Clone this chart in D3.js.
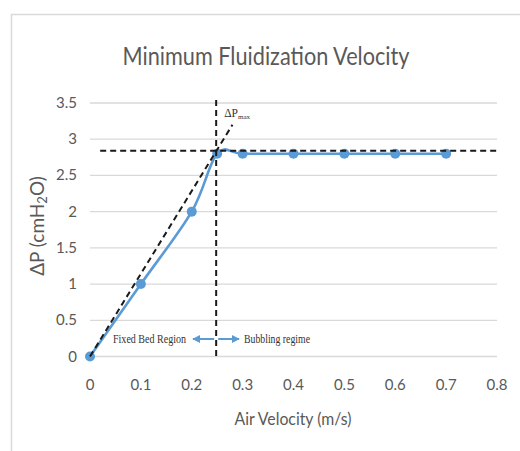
<!DOCTYPE html>
<html>
<head>
<meta charset="utf-8">
<script src="https://cdn.jsdelivr.net/npm/d3@7"></script>
<style>
  body { margin: 0; background: #fff; }
  text { font-family: Lato, "Open Sans", sans-serif; fill: #595959; }
  .note { font-family: "Liberation Serif", "DejaVu Serif", serif; fill: #333; }
</style>
</head>
<body>
<div id="chart"></div>
<script>
// measured values
var velocity = [0, 0.1, 0.2, 0.25, 0.3, 0.4, 0.5, 0.6, 0.7]
var pressure = [0, 1, 2, 2.8, 2.8, 2.8, 2.8, 2.8, 2.8]
var xTicks = [0, 0.1, 0.2, 0.3, 0.4, 0.5, 0.6, 0.7, 0.8]
var yTicks = [0, 0.5, 1, 1.5, 2, 2.5, 3, 3.5]
var umf = 0.248            // vertical dashed line
var dpMax = 2.84           // horizontal dashed line
var slopeLine = [[0, 0], [0.28, 3.2]]

var W = 520, H = 451
var svg = d3.select("#chart").append("svg")
    .attr("width", W).attr("height", H)

// frame (only top and left edges are visible)
svg.append("path")
    .attr("d", "M11.5," + H + "V14.5H" + W)
    .attr("fill", "none").attr("stroke", "#d9d9d9").attr("stroke-width", 1.5)

var x = d3.scaleLinear().domain([0, 0.8]).range([90, 497])
var y = d3.scaleLinear().domain([0, 3.5]).range([356.5, 103])

// gridlines
svg.append("g").selectAll("line").data(yTicks).enter().append("line")
    .attr("x1", x(0)).attr("x2", x(0.8))
    .attr("y1", function(d) { return y(d) }).attr("y2", function(d) { return y(d) })
    .attr("stroke", "#d9d9d9").attr("stroke-width", 1.3)

// tick labels
svg.append("g").selectAll("text").data(yTicks).enter().append("text")
    .attr("x", 77).attr("y", function(d) { return y(d) + 5 })
    .attr("text-anchor", "end").attr("font-size", 15)
    .text(function(d) { return d })
svg.append("g").selectAll("text").data(xTicks).enter().append("text")
    .attr("x", function(d) { return x(d) }).attr("y", 390)
    .attr("text-anchor", "middle").attr("font-size", 15)
    .text(function(d) { return d })

// titles
svg.append("text").attr("x", 266).attr("y", 65)
    .attr("text-anchor", "middle").attr("font-size", 25)
    .attr("textLength", 287).attr("lengthAdjust", "spacingAndGlyphs")
    .text("Minimum Fluidization Velocity")
svg.append("text").attr("x", 293).attr("y", 425)
    .attr("text-anchor", "middle").attr("font-size", 17)
    .attr("textLength", 117).attr("lengthAdjust", "spacingAndGlyphs")
    .text("Air Velocity (m/s)")
var yt = svg.append("text")
    .attr("transform", "translate(44,226) rotate(-90)")
    .attr("text-anchor", "middle").attr("font-size", 19)
yt.append("tspan").text("ΔP (cmH")
yt.append("tspan").attr("font-size", 13).attr("dy", 3).text("2")
yt.append("tspan").attr("dy", -3).text("O)")

// data line
var pts = velocity.map(function(v, i) { return [v, pressure[i]] })
var line = d3.line()
    .x(function(d) { return x(d[0]) })
    .y(function(d) { return y(d[1]) })
    .curve(d3.curveCardinal.tension(0))
svg.append("path").datum(pts)
    .attr("d", line)
    .attr("fill", "none").attr("stroke", "#5b9bd5").attr("stroke-width", 2.6)
svg.append("g").selectAll("circle").data(pts).enter().append("circle")
    .attr("cx", function(d) { return x(d[0]) })
    .attr("cy", function(d) { return y(d[1]) })
    .attr("r", 5).attr("fill", "#5b9bd5")

// dashed guide lines
var dash = { "stroke": "#1a1a1a", "stroke-width": 2, "stroke-dasharray": "6,4", "fill": "none" }
function styled(sel) {
    for (var k in dash) sel.attr(k, dash[k])
    return sel
}
styled(svg.append("line")
    .attr("x1", x(0.02)).attr("x2", x(0.8))
    .attr("y1", y(dpMax)).attr("y2", y(dpMax)))
styled(svg.append("line")
    .attr("x1", x(umf)).attr("x2", x(umf))
    .attr("y1", 100).attr("y2", y(0)))
styled(svg.append("line")
    .attr("x1", x(slopeLine[0][0])).attr("y1", y(slopeLine[0][1]))
    .attr("x2", x(slopeLine[1][0])).attr("y2", y(slopeLine[1][1])))

// annotations
var dp = svg.append("text").attr("class", "note")
    .attr("x", x(umf) + 8).attr("y", 117).attr("font-size", 11.5)
dp.append("tspan").text("ΔP")
dp.append("tspan").attr("font-size", 7).attr("dy", 2).text("max")

svg.append("text").attr("class", "note")
    .attr("x", 113).attr("y", 343).attr("font-size", 12)
    .attr("textLength", 73).attr("lengthAdjust", "spacingAndGlyphs").text("Fixed Bed Region")
svg.append("text").attr("class", "note")
    .attr("x", 244).attr("y", 343).attr("font-size", 12)
    .attr("textLength", 66).attr("lengthAdjust", "spacingAndGlyphs").text("Bubbling regime")

var defs = svg.append("defs")
defs.append("marker").attr("id", "head")
    .attr("viewBox", "0 0 10 10").attr("refX", 9).attr("refY", 5)
    .attr("markerWidth", 4).attr("markerHeight", 4).attr("orient", "auto-start-reverse")
  .append("path").attr("d", "M0,0L10,5L0,10Z").attr("fill", "#5b9bd5")
var ay = 339
svg.append("line").attr("x1", x(umf) - 2).attr("x2", 193).attr("y1", ay).attr("y2", ay)
    .attr("stroke", "#5b9bd5").attr("stroke-width", 2).attr("marker-end", "url(#head)")
svg.append("line").attr("x1", x(umf) + 2).attr("x2", 239).attr("y1", ay).attr("y2", ay)
    .attr("stroke", "#5b9bd5").attr("stroke-width", 2).attr("marker-end", "url(#head)")
</script>
</body>
</html>
